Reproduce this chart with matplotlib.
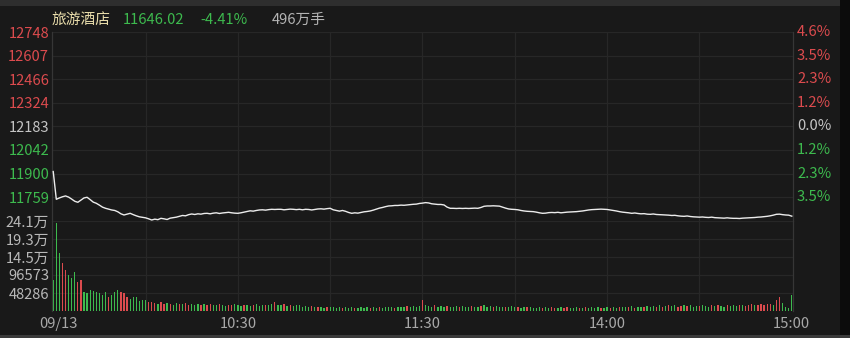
import numpy as np
import matplotlib
matplotlib.use("Agg")
import matplotlib.pyplot as plt
from matplotlib.patches import Rectangle
from matplotlib.transforms import ScaledTranslation

plt.rcParams['font.family'] = ['Noto Sans CJK SC', 'DejaVu Sans']

# -------------------------------------------------------------------
# DATA
# -------------------------------------------------------------------

title_name = "旅游酒店"
last_price = "11646.02"
change_pct = "-4.41%"
total_vol = "496万手"

prev_close = 12183.3

# one point per trading minute, 09:30 .. 15:00 (241 points)
price = [
    11913, 11747, 11755, 11762, 11767, 11760, 11748, 11735, 11729, 11742,
    11755, 11759, 11745, 11730, 11723, 11712, 11700, 11693, 11688, 11683,
    11680, 11672, 11660, 11653, 11658, 11663, 11655, 11648, 11642, 11639,
    11636, 11630, 11623, 11628, 11625, 11633, 11630, 11626, 11634, 11637,
    11640, 11645, 11650, 11648, 11655, 11659, 11656, 11660, 11658, 11662,
    11663, 11660, 11664, 11666, 11662, 11665, 11667, 11669, 11666, 11664,
    11663, 11666, 11670, 11674, 11678, 11676, 11680, 11683, 11684, 11682,
    11685, 11687, 11686, 11687, 11687, 11684, 11686, 11688, 11687, 11685,
    11687, 11684, 11687, 11686, 11683, 11686, 11689, 11690, 11688, 11691,
    11693, 11684, 11680, 11676, 11680, 11675, 11668, 11663, 11666, 11664,
    11668, 11672, 11674, 11677, 11682, 11688, 11694, 11698, 11703, 11707,
    11708, 11710, 11710, 11712, 11711, 11713, 11715, 11717, 11718, 11722,
    11724, 11727, 11725, 11720, 11718, 11716, 11716, 11713, 11700, 11693,
    11693, 11692, 11693, 11692, 11693, 11692, 11693, 11694, 11693, 11698,
    11705, 11707, 11707, 11708, 11707, 11706, 11700, 11694, 11689, 11687,
    11686, 11684, 11680, 11677, 11675, 11674, 11673, 11670, 11666, 11663,
    11664, 11667, 11668, 11667, 11669, 11666, 11668, 11670, 11671, 11672,
    11673, 11675, 11677, 11680, 11683, 11685, 11686, 11687, 11688, 11687,
    11686, 11683, 11680, 11677, 11673, 11670, 11668, 11666, 11663, 11665,
    11662, 11660, 11661, 11658, 11657, 11659, 11656, 11655, 11654, 11653,
    11652, 11650, 11651, 11648, 11646, 11645, 11647, 11644, 11642, 11641,
    11640, 11641, 11639, 11638, 11640, 11637, 11636, 11635, 11634, 11636,
    11634, 11633, 11633, 11632, 11634, 11635, 11636, 11637, 11638, 11640,
    11641, 11643, 11645, 11648, 11652, 11657, 11658, 11655, 11653, 11652,
    11646,
]

# volume per minute, in thousands
volume_k = [
    83, 235, 155, 128, 110, 97, 88, 105, 79, 83,
    52, 47, 56, 54, 52, 47, 43, 52, 38, 43,
    52, 56, 52, 47, 38, 31, 37, 37, 28, 29,
    29, 25,
    24, 22, 20, 23, 18, 21, 19, 17, 22, 20,
    18, 21, 16, 19, 17, 20, 15, 18, 16, 19,
    17, 15, 18, 16, 14, 17, 15, 19, 16, 14,
    17, 15, 13, 16, 18, 14, 15, 17, 16, 19,
    25, 17, 15, 18, 14, 16, 13, 15, 17, 12,
    14, 11, 13, 12, 10, 12, 9, 11, 10, 12,
    9, 10, 8, 11, 9, 10, 8, 9, 11, 8,
    10, 9, 11, 8, 10, 9, 12, 10, 11, 9,
    12, 10, 11, 13, 12, 14, 11, 13, 29, 16,
    14, 12, 15, 11, 13, 12, 14, 10, 12, 13,
    11, 14, 12, 10, 13, 11, 12, 14, 15, 12,
    13, 11, 14, 12, 10, 12, 11, 13, 10, 12,
    9, 11, 10, 12, 9, 8, 10, 9, 11, 8,
    10, 9, 8, 10, 9, 11, 8, 9, 10, 8,
    9, 10, 8, 11, 9, 10, 9, 8, 10, 9,
    11, 9, 10, 12, 10, 11, 13, 9, 11, 10,
    12, 14, 11, 13, 12, 15, 12, 14, 16, 13,
    15, 12, 14, 16, 13, 15, 12, 14, 13, 16,
    14, 12, 15, 13, 17, 14, 12, 15, 13, 16,
    14, 17, 15, 13, 16, 18, 15, 17, 19, 16,
    18, 20, 17, 29, 37, 22, 12, 9, 43,
]

# r = up minute, g = down minute
vol_dir = (
    "gggrrgggrrggggggggrgggrrrggggggr"
    "rrgrrgrggr" "grrgggrgrr" "ggrggrrggg" "rggrgggrgg" "rggrgrgggg"
    "ggrgrggrgg" "ggrgggrggg" "grggrggggr" "gggrggggrg" "ggrgggrggg"
    "rgggrggrgg" "grgggrgggr" "ggrggggrgg" "rrggrrgggr" "grggggrggr"
    "ggrggrgrgg" "rgggrgrgrg" "grrgrgggrg" "ggrgrggrgg" "grgrrrgrrr"
    "rrgrrgggg"
)

price_ticks = [12748, 12607, 12466, 12324, 12183, 12042, 11900, 11759]
pct_labels = ["4.6%", "3.5%", "2.3%", "1.2%", "0.0%", "1.2%", "2.3%", "3.5%"]
vol_ticks = [241432, 193146, 144859, 96573, 48286]
vol_labels = ["24.1万", "19.3万", "14.5万", "96573", "48286"]
time_pos = [0, 60, 120, 180, 240]
time_labels = ["09/13", "10:30", "11:30", "14:00", "15:00"]

# -------------------------------------------------------------------
# STYLE
# -------------------------------------------------------------------

BG = "#191919"
GRID = "#272727"
RED = "#dc4b4e"
GREEN = "#3dba4e"
GRAY = "#c4c4c4"
FS = 10.6
W, H = 850, 338


def fx(x):
    return x / W


def fy(y):
    return 1 - y / H


minutes = np.arange(len(price))
volume = np.array(volume_k) * 1000
bar_colors = [RED if c == "r" else GREEN for c in vol_dir]

fig = plt.figure(figsize=(8.5, 3.38), dpi=100, facecolor=BG)

# frame strips
fig.patches.append(Rectangle((0, fy(6)), 1, 6 / H, transform=fig.transFigure,
                             facecolor="#2e2e2e", edgecolor="none"))
fig.patches.append(Rectangle((fx(840), 0), 10 / W, 1, transform=fig.transFigure,
                             facecolor="#0c0c0c", edgecolor="none"))
fig.patches.append(Rectangle((0, 0), 1, 3 / H, transform=fig.transFigure,
                             facecolor="#3a3a3a", edgecolor="none"))

left, right = 52, 793
ax = fig.add_axes([fx(left), fy(221), fx(right - left), (221 - 32) / H])
axv = fig.add_axes([fx(left), fy(311), fx(right - left), (311 - 221) / H])

for a in (ax, axv):
    a.set_facecolor(BG)
    a.set_xlim(-0.4, 240.4)
    for s in ("top", "bottom"):
        a.spines[s].set_visible(False)
    for s in ("left", "right"):
        a.spines[s].set_color("#363636")
        a.spines[s].set_linewidth(0.9)
    a.tick_params(length=0)
    for m in range(30, 240, 30):
        a.axvline(m, color=GRID, linewidth=0.9, zorder=0)

# -------------------------------------------------------------------
# PRICE PANEL
# -------------------------------------------------------------------

ax.set_ylim(11617, 12748)
for t in price_ticks:
    ax.axhline(t, color=GRID, linewidth=0.9, zorder=0)
ax.plot(minutes, price, color="#ececec", linewidth=1.0, zorder=3)

ax.set_yticks(price_ticks)
ax.set_yticklabels([str(t) for t in price_ticks], fontsize=FS)
ax.tick_params(axis="y", pad=2)
for lbl, t in zip(ax.get_yticklabels(), price_ticks):
    if t > 12183:
        lbl.set_color(RED)
    elif t == 12183:
        lbl.set_color(GRAY)
    else:
        lbl.set_color(GREEN)

for t, lab in zip(price_ticks, pct_labels):
    if t > 12183:
        c = RED
    elif t == 12183:
        c = GRAY
    else:
        c = GREEN
    ax.text(1.0 + 4 / (right - left), t, lab, color=c, fontsize=FS,
            ha="left", va="center", transform=ax.get_yaxis_transform())
ax.set_xticks([])

# -------------------------------------------------------------------
# VOLUME PANEL
# -------------------------------------------------------------------

axv.set_ylim(0, vol_ticks[0])
for t in vol_ticks:
    axv.axhline(t, color=GRID, linewidth=0.9, zorder=0)
axv.bar(minutes, volume, width=0.42, color=bar_colors, linewidth=0, zorder=2)

axv.set_yticks(vol_ticks)
axv.set_yticklabels(vol_labels, fontsize=FS, color="#b8b8b8")
axv.tick_params(axis="y", pad=2)

axv.set_xticks(time_pos)
axv.set_xticklabels(time_labels, fontsize=FS, color="#a8a8a8")
axv.tick_params(axis="x", pad=4)
first = axv.get_xticklabels()[0]
first.set_transform(first.get_transform() +
                    ScaledTranslation(5 / 100, 0, fig.dpi_scale_trans))

# -------------------------------------------------------------------
# HEADER
# -------------------------------------------------------------------

fig.text(fx(52), fy(20), title_name, color="#e8dcaa", fontsize=FS, va="center")
fig.text(fx(123), fy(20), last_price, color=GREEN, fontsize=FS, va="center")
fig.text(fx(200), fy(20), change_pct, color=GREEN, fontsize=FS, va="center")
fig.text(fx(272), fy(20), total_vol, color="#b4b4b4", fontsize=FS, va="center")

plt.savefig("out.png", dpi=100, facecolor=BG)
